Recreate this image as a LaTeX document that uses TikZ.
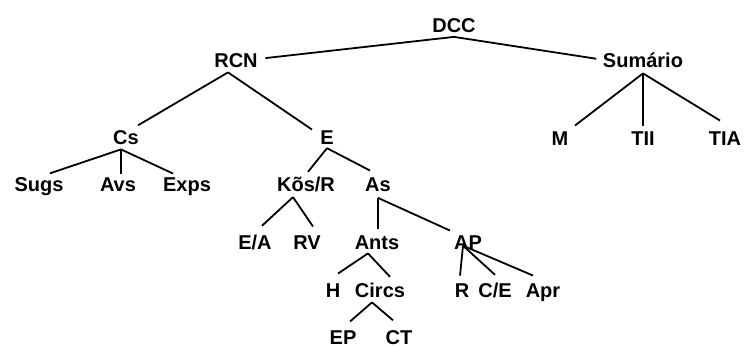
\documentclass[tikz,border=0pt]{standalone}
\usepackage{fontspec}
\setmainfont{Liberation Sans}
\begin{document}
\begin{tikzpicture}[x=1pt,y=-1pt,
  lbl/.style={font=\fontsize{20}{20}\selectfont\bfseries, inner sep=0.5pt, anchor=base},
  edge/.style={line width=1.8pt}]
\useasboundingbox[fill=white] (0,0) rectangle (744,347);
\node[lbl] (DCC) at (454,33) {DCC};
\node[lbl] (RCN) at (236,68) {RCN};
\node[lbl] (Sum) at (643,68) {Sumário};
\node[lbl] (Cs) at (126,145) {Cs};
\node[lbl] (E) at (327,145) {E};
\node[lbl] (Sugs) at (39,192) {Sugs};
\node[lbl] (Avs) at (118,192) {Avs};
\node[lbl] (Exps) at (187,192) {Exps};
\node[lbl] (M) at (560,146) {M};
\node[lbl] (TII) at (643,146) {TII};
\node[lbl] (TIA) at (725,146) {TIA};
\node[lbl] (Kos) at (306,192) {Kõs/R};
\node[lbl] (As) at (378,192) {As};
\node[lbl] (EA) at (255,250) {E/A};
\node[lbl] (RV) at (307,250) {RV};
\node[lbl] (Ants) at (377,250) {Ants};
\node[lbl] (AP) at (468,250) {AP};
\node[lbl] (H) at (333,298) {H};
\node[lbl] (Circs) at (380,298) {Circs};
\node[lbl] (R) at (462,298) {R};
\node[lbl] (CE) at (495,298) {C/E};
\node[lbl] (Apr) at (543,298) {Apr};
\node[lbl] (EP) at (343,344) {EP};
\node[lbl] (CT) at (399,344) {CT};
% connectors
\draw[edge] ([yshift=-3pt]DCC.south) -- ([xshift=7pt,yshift=3pt]RCN.east);
\draw[edge] ([yshift=-3pt]DCC.south) -- ([xshift=-6pt,yshift=2pt]Sum.west);
\draw[edge] ([xshift=-8pt,yshift=-3.5pt]RCN.south) -- ([xshift=12pt,yshift=5pt]Cs.north);
\draw[edge] ([xshift=-8pt,yshift=-3.5pt]RCN.south) -- ([xshift=-15pt,yshift=1pt]E.north);
\draw[edge] ([xshift=-5pt,yshift=-3.5pt]Cs.south) -- ([xshift=11pt,yshift=4pt]Sugs.north);
\draw[edge] ([xshift=-5pt,yshift=-3.5pt]Cs.south) -- ([xshift=3pt,yshift=4pt]Avs.north);
\draw[edge] ([xshift=-5pt,yshift=-3.5pt]Cs.south) -- ([xshift=-14pt,yshift=4pt]Exps.north);
\draw[edge] ([yshift=-2.5pt]E.south) -- ([xshift=2pt,yshift=5pt]Kos.north);
\draw[edge] ([yshift=-2.5pt]E.south) -- ([xshift=-8pt,yshift=7pt]As.north);
\draw[edge] ([xshift=-13pt,yshift=-4pt]Kos.south) -- ([xshift=7pt,yshift=9pt]EA.north);
\draw[edge] ([xshift=-13pt,yshift=-4pt]Kos.south) -- ([xshift=6pt,yshift=9pt]RV.north);
\draw[edge] ([yshift=-5pt]As.south) -- ([xshift=1pt,yshift=7pt]Ants.north);
\draw[edge] ([yshift=-5pt]As.south) -- ([xshift=-18pt,yshift=5pt]AP.north);
\draw[edge] ([xshift=-9pt,yshift=-2.5pt]Ants.south) -- ([xshift=5pt,yshift=10pt]H.north);
\draw[edge] ([xshift=-9pt,yshift=-2.5pt]Ants.south) -- ([xshift=10pt,yshift=6pt]Circs.north);
\draw[edge] ([xshift=-8pt,yshift=-3.5pt]Circs.south) -- ([xshift=7pt,yshift=8pt]EP.north);
\draw[edge] ([xshift=-8pt,yshift=-3.5pt]Circs.south) -- ([xshift=-6pt,yshift=9pt]CT.north);
\draw[edge] ([xshift=-5pt,yshift=5pt]AP.south) -- ([xshift=-2pt,yshift=8pt]R.north);
\draw[edge] ([xshift=-5pt,yshift=5pt]AP.south) -- ([yshift=8pt]CE.north);
\draw[edge] ([xshift=-5pt,yshift=5pt]AP.south) -- ([xshift=-10pt,yshift=8pt]Apr.north);
\draw[edge] ([yshift=-4.5pt]Sum.south) -- ([xshift=15pt,yshift=6pt]M.north);
\draw[edge] ([yshift=-4.5pt]Sum.south) -- ([yshift=6pt]TII.north);
\draw[edge] ([yshift=-4.5pt]Sum.south) -- ([xshift=-5pt,yshift=11pt]TIA.north);
\end{tikzpicture}
\end{document}
